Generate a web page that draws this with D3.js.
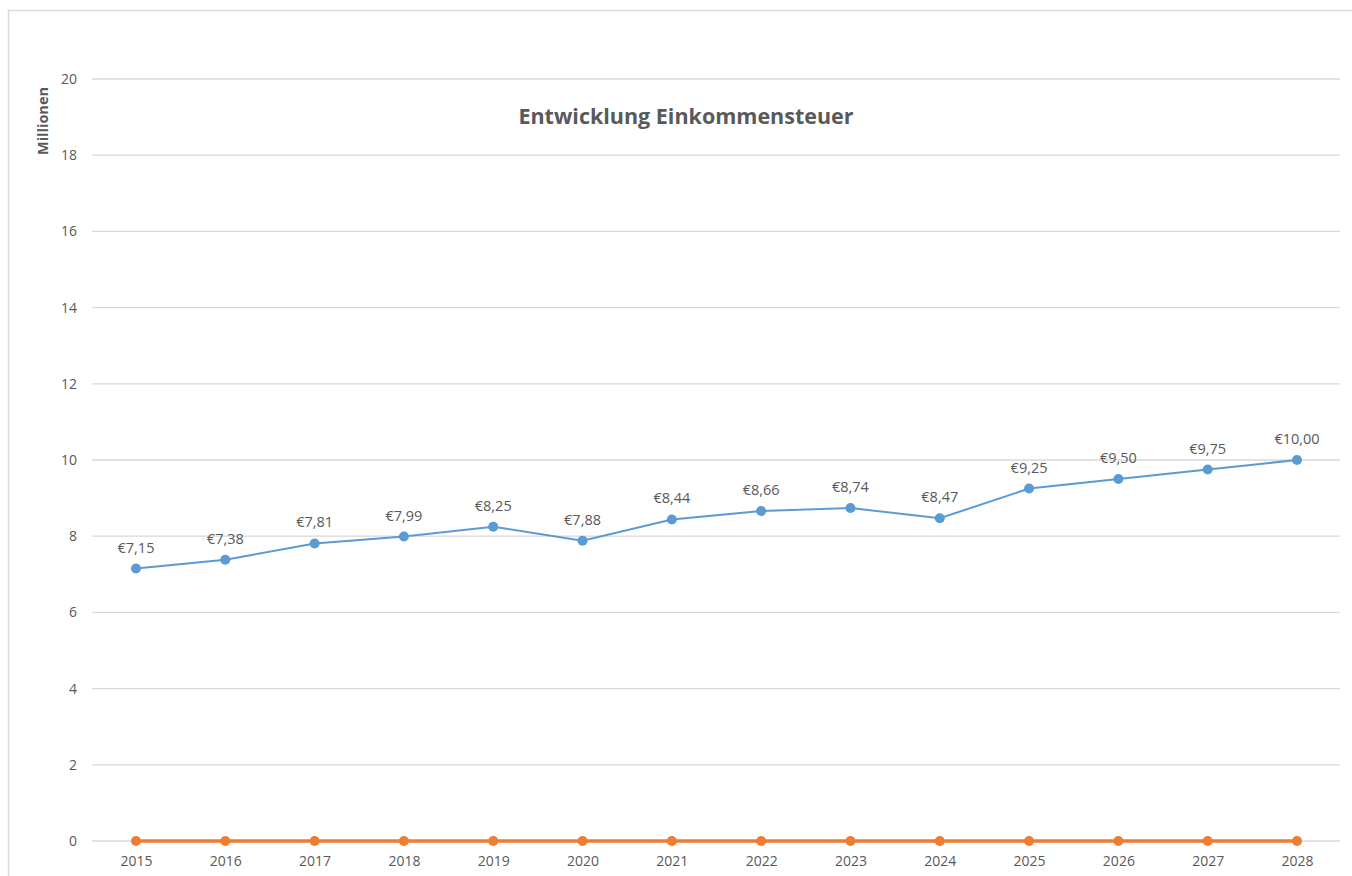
<!DOCTYPE html>
<html><head><meta charset="utf-8">
<script src="https://cdn.jsdelivr.net/npm/d3@7"></script>
<style>body{margin:0;background:#fff;} svg{display:block;font-family:"Open Sans",sans-serif;}</style>
</head><body><svg id="c" width="1352" height="876"></svg>
<script>
const years = ["2015","2016","2017","2018","2019","2020","2021","2022","2023","2024","2025","2026","2027","2028"];
const einkommensteuer = [7.15,7.38,7.81,7.99,8.25,7.88,8.44,8.66,8.74,8.47,9.25,9.50,9.75,10.00];
const zweiteReihe = [0,0,0,0,0,0,0,0,0,0,0,0,0,0];
const yTicks = [0,2,4,6,8,10,12,14,16,18,20];
const title = "Entwicklung Einkommensteuer";
const yLabel = "Millionen";

const svg = d3.select("#c");
svg.append("rect").attr("x",8.5).attr("y",10.5).attr("width",1360).attr("height",900)
  .attr("fill","none").attr("stroke","#d9d9d9").attr("stroke-width",1.5);

const x = d3.scalePoint().domain(years).range([136,1297]);
const y = d3.scaleLinear().domain([0,20]).range([841,79]);

const grid = svg.append("g");
grid.selectAll("line").data(yTicks).join("line")
  .attr("x1",92).attr("x2",1340).attr("y1",d=>y(d)).attr("y2",d=>y(d))
  .attr("stroke","#d9d9d9").attr("stroke-width",1.3);

const yAxis = svg.append("g").attr("transform","translate(92,0)")
  .call(d3.axisLeft(y).tickValues(yTicks).tickSize(0).tickPadding(15).tickFormat(d3.format("d")));
yAxis.select(".domain").remove();
yAxis.selectAll("text").attr("fill","#595959").style("font-size","14px").style("font-family","'Open Sans',sans-serif");

const xAxis = svg.append("g").attr("transform","translate(0,841)")
  .call(d3.axisBottom(x).tickSize(0).tickPadding(15));
xAxis.select(".domain").remove();
xAxis.selectAll("text").attr("fill","#595959").style("font-size","14px").style("font-family","'Open Sans',sans-serif");

svg.append("text").attr("x",686).attr("y",124).attr("text-anchor","middle")
  .attr("fill","#595959").style("font-size","21.5px").style("font-weight","bold").text(title);
svg.append("text").attr("transform","translate(48,121) rotate(-90)").attr("text-anchor","middle")
  .attr("fill","#595959").style("font-size","14.5px").style("font-weight","bold").text(yLabel);

const line = d3.line().x((d,i)=>x(years[i])).y(d=>y(d));

svg.append("path").datum(einkommensteuer).attr("d",line).attr("fill","none")
  .attr("stroke","#5B9BD5").attr("stroke-width",2);
svg.append("g").selectAll("circle").data(einkommensteuer).join("circle")
  .attr("cx",(d,i)=>x(years[i])).attr("cy",d=>y(d)).attr("r",5).attr("fill","#5B9BD5");
const fmt = v => "€" + v.toFixed(2).replace(".",",");
svg.append("g").selectAll("text").data(einkommensteuer).join("text")
  .attr("x",(d,i)=>x(years[i])).attr("y",d=>y(d)-16).attr("text-anchor","middle")
  .attr("fill","#595959").style("font-size","14.5px").text(fmt);

svg.append("path").datum(zweiteReihe).attr("d",line).attr("fill","none")
  .attr("stroke","#ED7D31").attr("stroke-width",3.5);
svg.append("g").selectAll("circle").data(zweiteReihe).join("circle")
  .attr("cx",(d,i)=>x(years[i])).attr("cy",d=>y(d)).attr("r",5).attr("fill","#ED7D31");
</script></body></html>
